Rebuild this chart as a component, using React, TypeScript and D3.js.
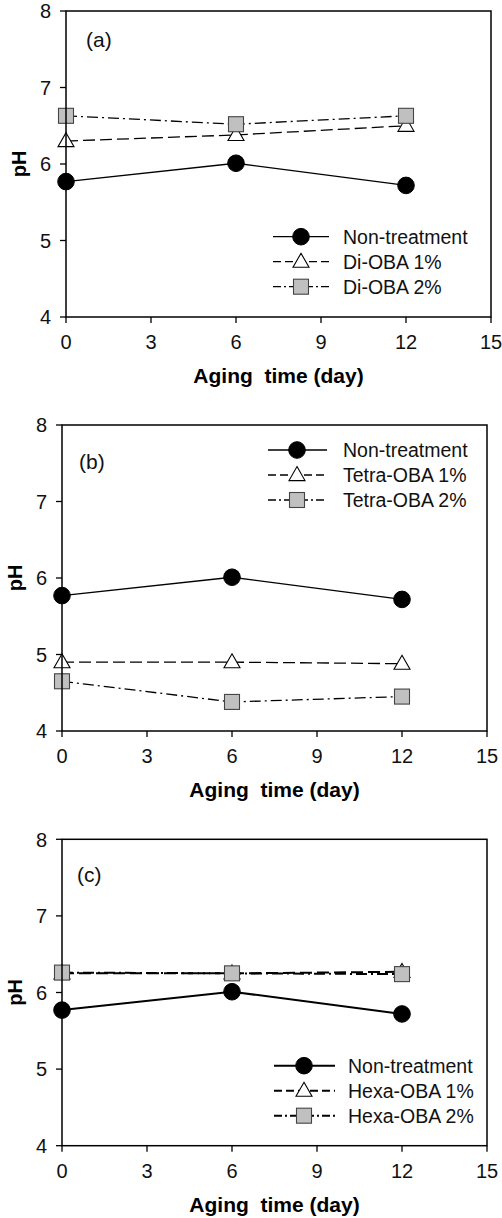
import React from "react";
import * as d3 from "d3";

// ---- data ----
const days = [0, 6, 12];
const nonTreatment = [5.77, 6.01, 5.72];
const diOBA1 = [6.3, 6.38, 6.5];
const diOBA2 = [6.63, 6.52, 6.63];
const tetraOBA1 = [4.9, 4.9, 4.88];
const tetraOBA2 = [4.65, 4.38, 4.45];
const hexaOBA1 = [6.25, 6.25, 6.27];
const hexaOBA2 = [6.26, 6.25, 6.24];

const xTicks = [0, 3, 6, 9, 12, 15];
const yTicks = [4, 5, 6, 7, 8];
const panelLabels = ["(a)", "(b)", "(c)"];
const legendNames = [
  ["Non-treatment", "Di-OBA 1%", "Di-OBA 2%"],
  ["Non-treatment", "Tetra-OBA 1%", "Tetra-OBA 2%"],
  ["Non-treatment", "Hexa-OBA 1%", "Hexa-OBA 2%"],
];
const panelSeries = [
  [nonTreatment, diOBA1, diOBA2],
  [nonTreatment, tetraOBA1, tetraOBA2],
  [nonTreatment, hexaOBA1, hexaOBA2],
];
const xTitle = "Aging\u00a0\u00a0time (day)";
const yTitle = "pH";

// ---- layout ----
const layouts = [
  { left: 66, right: 491, top: 11, bottom: 317, lab: [86, 40], leg: { x1: 273, x2: 329, mx: 301, tx: 343, y0: 236.7 }, lw: 1.3 },
  { left: 62, right: 487, top: 425, bottom: 731, lab: [79, 461.5], leg: { x1: 268, x2: 327, mx: 297, tx: 343, y0: 450 }, lw: 1.3 },
  { left: 62, right: 487, top: 839.3, bottom: 1145.7, lab: [77, 875], leg: { x1: 274, x2: 335, mx: 304, tx: 348, y0: 1065.7 }, lw: 2 },
];

const FONT = "'Liberation Sans', Arial, sans-serif";
const dashes = [null, "12,5", "11,4,2,4"];

function Marker({ kind, x, y }: { kind: number; x: number; y: number }) {
  if (kind === 0) return <circle cx={x} cy={y} r={8.3} fill="#000" stroke="#000" strokeWidth={1} />;
  if (kind === 1) {
    const w = 8, h = 14;
    const p = `M${x},${y - h * 0.6} L${x + w},${y + h * 0.4} L${x - w},${y + h * 0.4} Z`;
    return <path d={p} fill="#fff" stroke="#000" strokeWidth={1.1} />;
  }
  const s = 15;
  return <rect x={x - s / 2} y={y - s / 2} width={s} height={s} fill="#c0c0c0" stroke="#444" strokeWidth={1.1} />;
}

function Panel({ idx }: { idx: number }) {
  const L = layouts[idx];
  const x = d3.scaleLinear().domain([0, 15]).range([L.left, L.right]);
  const y = d3.scaleLinear().domain([4, 8]).range([L.bottom, L.top]);
  const series = panelSeries[idx];
  const names = legendNames[idx];
  const line = d3
    .line<number>()
    .x((_, i) => x(days[i]))
    .y((d) => y(d));
  const midX = (L.left + L.right) / 2;
  const midY = (L.top + L.bottom) / 2;
  return (
    <g>
      {series.map((vals, s) => (
        <path key={s} d={line(vals) || ""} fill="none" stroke="#000" strokeWidth={L.lw} strokeDasharray={dashes[s] || undefined} />
      ))}
      {series.map((vals, s) => (
        <g key={"m" + s}>
          {vals.map((v, i) => (
            <Marker key={i} kind={s} x={x(days[i])} y={y(v)} />
          ))}
        </g>
      ))}
      <rect x={L.left} y={L.top} width={L.right - L.left} height={L.bottom - L.top} fill="none" stroke="#000" strokeWidth={1.5} />
      {xTicks.map((t) => (
        <g key={"x" + t}>
          <line x1={x(t)} x2={x(t)} y1={L.bottom} y2={L.bottom + 6} stroke="#000" strokeWidth={1.3} />
          <text x={x(t)} y={L.bottom + 32} textAnchor="middle" fontFamily={FONT} fontSize={20} fill="#111">
            {t}
          </text>
        </g>
      ))}
      {yTicks.map((t) => (
        <g key={"y" + t}>
          <line x1={L.left - 6} x2={L.left} y1={y(t)} y2={y(t)} stroke="#000" strokeWidth={1.3} />
          <text x={L.left - 15} y={y(t)} dy="0.36em" textAnchor="end" fontFamily={FONT} fontSize={20} fill="#111">
            {t}
          </text>
        </g>
      ))}
      <text x={midX} y={L.bottom + 66} textAnchor="middle" fontFamily={FONT} fontWeight="bold" fontSize={21} fill="#000">
        {xTitle}
      </text>
      <text
        transform={`translate(${L.left - 40},${midY}) rotate(-90)`}
        textAnchor="middle"
        fontFamily={FONT}
        fontWeight="bold"
        fontSize={20}
        fill="#000"
      >
        {yTitle}
      </text>
      <text x={L.lab[0]} y={L.lab[1]} dy="0.35em" fontFamily={FONT} fontSize={21} fill="#111">
        {panelLabels[idx]}
      </text>
      {names.map((n, s) => {
        const ly = L.leg.y0 + s * 25;
        return (
          <g key={"l" + s}>
            <line x1={L.leg.x1} x2={L.leg.x2} y1={ly} y2={ly} stroke="#000" strokeWidth={L.lw} strokeDasharray={dashes[s] ? (s === 1 ? "8,4" : "8,3,2,3") : undefined} />
            <Marker kind={s} x={L.leg.mx} y={ly} />
            <text x={L.leg.tx} y={ly} dy="0.36em" fontFamily={FONT} fontSize={19.5} fill="#111">
              {n}
            </text>
          </g>
        );
      })}
    </g>
  );
}

export default function App() {
  return (
    <svg width={502} height={1218} style={{ position: "absolute", left: 0, top: 0, background: "#fff" }}>
      <rect width={502} height={1218} fill="#fff" />
      {[0, 1, 2].map((i) => (
        <Panel key={i} idx={i} />
      ))}
    </svg>
  );
}
